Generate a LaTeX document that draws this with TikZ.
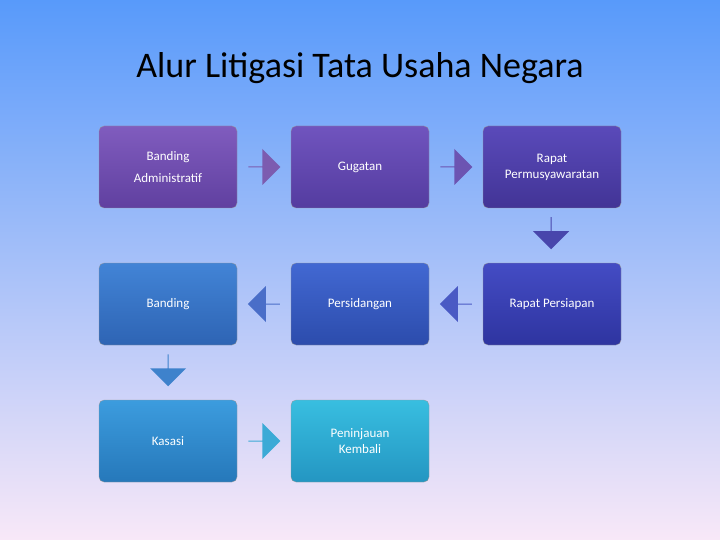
\documentclass[tikz,border=0pt]{standalone}
\usepackage{fontspec}
\setmainfont{Carlito}
\usetikzlibrary{shapes.arrows,positioning}
\begin{document}
\begin{tikzpicture}[x=1pt,y=-1pt]
			\tikzstyle{Step}	= [rounded corners=5pt, minimum width=138pt, minimum height=82pt, inner sep=2pt, align=center, text=white, font=\fontsize{13}{16}\selectfont, draw=white!60!black, line width=0.3pt]
			\tikzstyle{Arrow}	= [single arrow, minimum width=36pt, single arrow head extend=7pt, minimum height=32pt, inner sep=0pt, draw=none]

			\shade[top color={rgb,255:red,88;green,154;blue,250}, bottom color={rgb,255:red,248;green,232;blue,248}] (0,0) rectangle (720,540);
			\node (title) at (360,68) [font=\fontsize{36}{40}\selectfont] {Alur Litigasi Tata Usaha Negara};

			\node (banding1) at (168,167) [Step, top color={rgb,255:red,128;green,92;blue,190}, bottom color={rgb,255:red,96;green,64;blue,160}] {Banding\\[6pt]Administratif};
			\node (gugatan) at (360,167) [Step, top color={rgb,255:red,112;green,84;blue,190}, bottom color={rgb,255:red,84;green,60;blue,160}] {Gugatan};
			\node (rapat1) at (552,167) [Step, top color={rgb,255:red,90;green,74;blue,186}, bottom color={rgb,255:red,66;green,52;blue,150}] {Rapat\\Permusyawaratan};
			\node (banding2) at (168,304) [Step, top color={rgb,255:red,66;green,132;blue,214}, bottom color={rgb,255:red,46;green,100;blue,180}] {Banding};
			\node (sidang) at (360,304) [Step, top color={rgb,255:red,66;green,104;blue,210}, bottom color={rgb,255:red,44;green,76;blue,172}] {Persidangan};
			\node (rapat2) at (552,304) [Step, top color={rgb,255:red,68;green,76;blue,196}, bottom color={rgb,255:red,46;green,52;blue,160}] {Rapat Persiapan};
			\node (kasasi) at (168,441) [Step, top color={rgb,255:red,60;green,156;blue,222}, bottom color={rgb,255:red,38;green,120;blue,186}] {Kasasi};
			\node (tinjau) at (360,441) [Step, top color={rgb,255:red,56;green,190;blue,224}, bottom color={rgb,255:red,36;green,150;blue,194}] {Peninjauan\\Kembali};

			% block arrows between the steps
			\node (a1) at (264,167) [Arrow, fill={rgb,255:red,124;green,92;blue,176}] {};
			\node (a2) at (456,167) [Arrow, fill={rgb,255:red,108;green,84;blue,178}] {};
			\node (a3) at (551,233) [Arrow, shape border rotate=270, fill={rgb,255:red,72;green,70;blue,172}] {};
			\node (a4) at (456,304) [Arrow, shape border rotate=180, fill={rgb,255:red,74;green,90;blue,196}] {};
			\node (a5) at (264,304) [Arrow, shape border rotate=180, fill={rgb,255:red,74;green,110;blue,200}] {};
			\node (a6) at (168,370) [Arrow, shape border rotate=270, fill={rgb,255:red,62;green,130;blue,204}] {};
			\node (a7) at (264,441) [Arrow, fill={rgb,255:red,60;green,170;blue,214}] {};
\end{tikzpicture}
\end{document}
